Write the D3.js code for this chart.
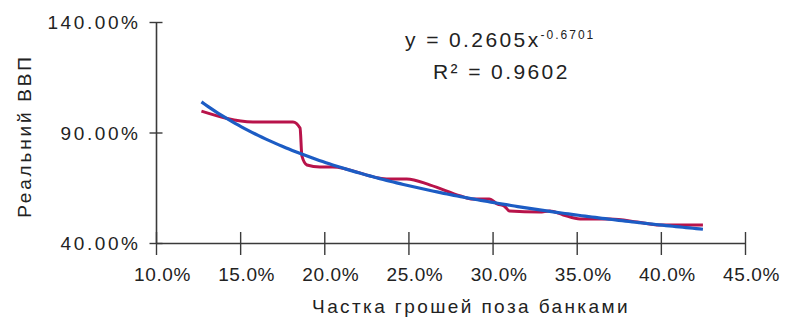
<!DOCTYPE html>
<html>
<head>
<meta charset="utf-8">
<script src="https://cdn.jsdelivr.net/npm/d3@7"></script>
<style>
  html, body { margin: 0; padding: 0; background: #fff; }
  svg { display: block; }
  text { font-family: "Liberation Sans", Arial, Helvetica, sans-serif; fill: #222; }
</style>
</head>
<body>
<svg id="chart" width="793" height="322"></svg>
<script>
// Share of money outside banks (x) vs real GDP (y)
const moneyOutsideBanks = [0.127, 0.1576, 0.1814, 0.1856, 0.1867, 0.1897, 0.1974, 0.205, 0.237, 0.249,
  0.263, 0.281, 0.288, 0.298, 0.303, 0.307, 0.310, 0.328, 0.334, 0.342, 0.352, 0.370, 0.386, 0.399, 0.425];
const realGdp = [0.997, 0.948, 0.948, 0.920, 0.794, 0.753, 0.744, 0.744, 0.690, 0.690,
  0.662, 0.613, 0.599, 0.599, 0.576, 0.567, 0.545, 0.540, 0.545, 0.527, 0.509, 0.509, 0.495, 0.481, 0.481];

// Power trendline stated on the chart: y = 0.2605 x^-0.6701
const trendCoef = 0.2605;
const trendExp = -0.6701;
const trendRange = [0.127, 0.425];
const trendLabel = "y = 0.2605x";
const trendExpLabel = "-0.6701";
const rSquaredLabel = "R² = 0.9602";

const xTicks = [0.10, 0.15, 0.20, 0.25, 0.30, 0.35, 0.40, 0.45];
const xTickLabels = ["10.0%", "15.0%", "20.0%", "25.0%", "30.0%", "35.0%", "40.0%", "45.0%"];
const yTicks = [0.40, 0.90, 1.40];
const yTickLabels = ["40.00%", "90.00%", "140.00%"];

const xTitle = "Частка грошей поза банками";
const yTitle = "Реальний ВВП";

const svg = d3.select("#chart");

const x = d3.scaleLinear().domain([0.10, 0.45]).range([156, 745]);
const y = d3.scaleLinear().domain([0.40, 1.40]).range([243, 22]);

const axisColor = "#3a3a3a";

// Y axis
const yAxis = d3.axisLeft(y)
  .tickValues(yTicks)
  .tickSizeInner(-13)
  .tickSizeOuter(0)
  .tickFormat((d, i) => yTickLabels[i]);

const yLs = 2.6;
const gy = svg.append("g").attr("transform", `translate(${x(0.10)},0)`).call(yAxis);
gy.select(".domain").attr("stroke", axisColor).attr("stroke-width", 1.6);
gy.selectAll(".tick line")
  .attr("stroke", axisColor).attr("stroke-width", 1.4)
  .attr("x1", -6.5).attr("x2", 6.5);
gy.selectAll(".tick text")
  .attr("x", -18 + yLs)
  .attr("dy", "0.36em")
  .style("font-size", "19px")
  .style("letter-spacing", yLs + "px")
  .attr("fill", "#222");

// X axis
const xAxis = d3.axisBottom(x)
  .tickValues(xTicks)
  .tickSizeOuter(0)
  .tickFormat((d, i) => xTickLabels[i]);

const gx = svg.append("g").attr("transform", `translate(0,${y(0.40)})`).call(xAxis);
gx.select(".domain").attr("stroke", axisColor).attr("stroke-width", 1.6);
gx.selectAll(".tick line")
  .attr("stroke", axisColor).attr("stroke-width", 1.4)
  .attr("y1", -11).attr("y2", 12);
gx.selectAll(".tick text")
  .attr("y", 38)
  .attr("dy", 0)
  .attr("dx", 6)
  .style("font-size", "19px")
  .style("letter-spacing", "0.6px")
  .attr("fill", "#222");

// Axis titles
svg.append("text")
  .attr("x", 471).attr("y", 313)
  .attr("text-anchor", "middle")
  .style("font-size", "19px")
  .style("letter-spacing", "2.4px")
  .text(xTitle);

svg.append("text")
  .attr("transform", "translate(31,136) rotate(-90)")
  .attr("text-anchor", "middle")
  .style("font-size", "19px")
  .style("letter-spacing", "2.8px")
  .text(yTitle);

// Observed series
const line = d3.line()
  .x((d, i) => x(moneyOutsideBanks[i]))
  .y((d, i) => y(realGdp[i]))
  .curve(d3.curveMonotoneX);

svg.append("path")
  .datum(realGdp)
  .attr("d", line)
  .attr("fill", "none")
  .attr("stroke", "#b8134a")
  .attr("stroke-width", 3)
  .attr("stroke-linejoin", "round");

// Trendline from the stated equation
const trendXs = d3.range(trendRange[0], trendRange[1] + 1e-9, 0.002);
const trendLine = d3.line()
  .x(d => x(d))
  .y(d => y(trendCoef * Math.pow(d, trendExp)));

svg.append("path")
  .datum(trendXs)
  .attr("d", trendLine)
  .attr("fill", "none")
  .attr("stroke", "#1c5cc4")
  .attr("stroke-width", 3.2);

// Equation label
const eq = svg.append("text")
  .attr("x", 405).attr("y", 47)
  .style("font-size", "21px")
  .style("letter-spacing", "2.4px");
eq.append("tspan").text(trendLabel);
eq.append("tspan")
  .attr("dy", -8)
  .style("font-size", "12px")
  .style("letter-spacing", "2px")
  .text(trendExpLabel);

svg.append("text")
  .attr("x", 433).attr("y", 79)
  .style("font-size", "21px")
  .style("letter-spacing", "2.4px")
  .text(rSquaredLabel);
</script>
</body>
</html>
